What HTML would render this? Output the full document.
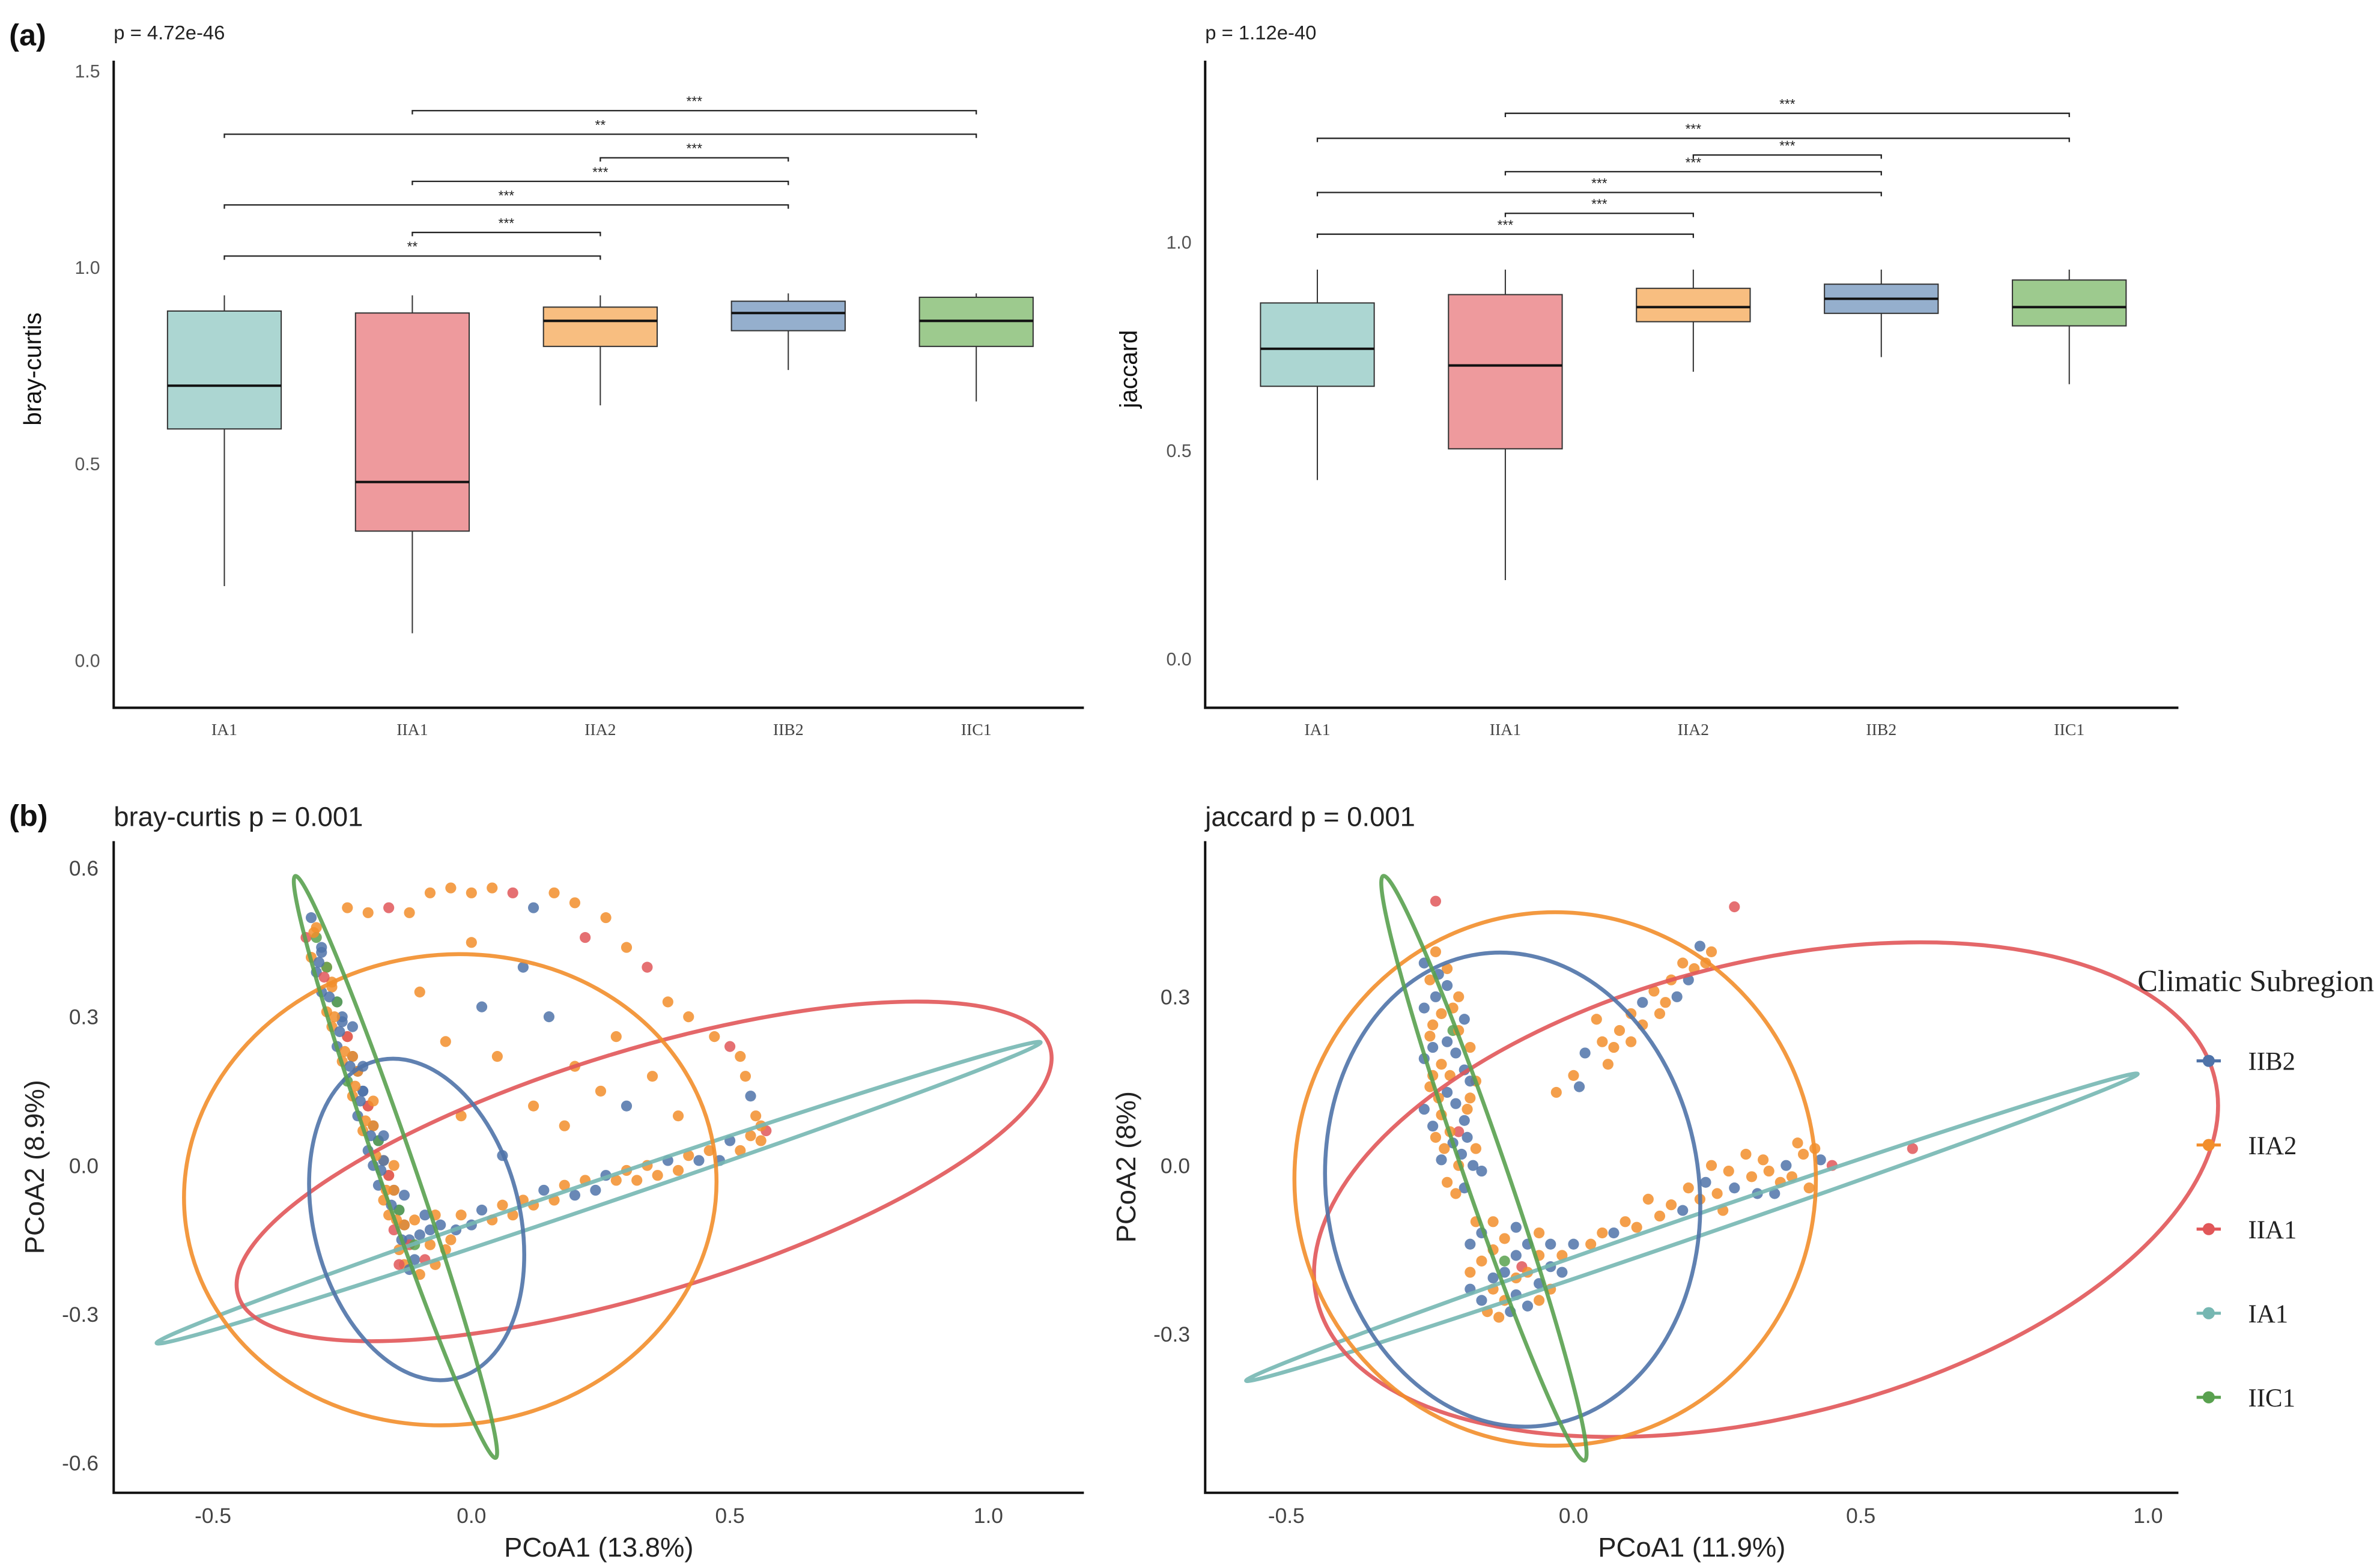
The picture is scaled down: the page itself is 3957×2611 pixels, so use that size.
<!DOCTYPE html>
<html><head><meta charset="utf-8"><style>
html,body{margin:0;padding:0;background:#fff;}
svg{display:block;}
text{font-family:"Liberation Sans",sans-serif;}
</style></head><body>
<svg id="fig" width="3957" height="2611" viewBox="0 0 1568 1034.6" xmlns="http://www.w3.org/2000/svg">
<g><text x="6" y="30" font-size="20" font-weight="bold" fill="#111">(a)</text></g>
<g><text x="6" y="545" font-size="20" font-weight="bold" fill="#111">(b)</text></g>
<text x="75" y="26" font-size="13" fill="#222">p = 4.72e-46</text>
<text x="795" y="26" font-size="13" fill="#222">p = 1.12e-40</text>
<text x="75" y="545" font-size="18" fill="#222">bray-curtis p = 0.001</text>
<text x="795" y="545" font-size="18" fill="#222">jaccard p = 0.001</text>
<g id="legend">
<text x="1410" y="654" font-size="20" fill="#222" style="font-family:'Liberation Serif',serif">Climatic Subregion</text>
</g>
</svg>
<script>
const cats=['IA1','IIA1','IIA2','IIB2','IIC1'];
const fillCols=['#acd6d2','#ee9a9d','#f8be80','#95afcd','#9dca8e'];
// bray-curtis boxes
const brayLow=[0.19,0.07,0.65,0.74,0.66];
const brayQ1=[0.59,0.33,0.80,0.84,0.80];
const brayMed=[0.70,0.455,0.865,0.885,0.865];
const brayQ3=[0.89,0.885,0.90,0.915,0.925];
const brayHigh=[0.93,0.93,0.93,0.935,0.935];
const brayBrFrom=[1,0,2,1,0,1,0];
const brayBrTo=[4,4,3,3,3,2,2];
const brayBrLevel=[1.40,1.34,1.28,1.22,1.16,1.09,1.03];
const brayBrLabel=['***','**','***','***','***','***','**'];
const brayTicks=[0,0.5,1.0,1.5];
// jaccard boxes
const jacLow=[0.43,0.19,0.69,0.725,0.66];
const jacQ1=[0.655,0.505,0.81,0.83,0.80];
const jacMed=[0.745,0.705,0.845,0.865,0.845];
const jacQ3=[0.855,0.875,0.89,0.90,0.91];
const jacHigh=[0.935,0.935,0.935,0.935,0.935];
const jacBrFrom=[1,0,2,1,0,1,0];
const jacBrTo=[4,4,3,3,3,2,2];
const jacBrLevel=[1.31,1.25,1.21,1.17,1.12,1.07,1.02];
const jacBrLabel=['***','***','***','***','***','***','***'];
const jacTicks=[0,0.5,1.0];

const groups=['IIB2','IIA2','IIA1','IA1','IIC1'];
const groupCols={B:'#4f73a9',O:'#f28e2b',R:'#e15759',T:'#76b7b2',G:'#59a14f'};
const groupKeys=['B','O','R','T','G'];
const ellGroup=['T','R','O','B','G'];
const brayEllCx=[0.246,0.334,-0.041,-0.106,-0.147];
const brayEllCy=[-0.055,-0.012,-0.049,-0.109,-0.003];
const jacEllCx=[0.206,0.335,-0.032,-0.106,-0.156];
const jacEllCy=[-0.11,-0.043,-0.024,-0.043,-0.005];
const brayTicksX=[-0.5,0,0.5,1.0], brayTicksY=[-0.6,-0.3,0,0.3,0.6];
const jacTicksX=[-0.5,0,0.5,1.0], jacTicksY=[-0.3,0,0.3];
const brayPts=[
[-0.31,0.50,'B'],[-0.30,0.48,'O'],[-0.32,0.46,'R'],[-0.30,0.46,'G'],[-0.29,0.44,'B'],[-0.31,0.42,'O'],
[-0.29,0.43,'B'],[-0.28,0.40,'O'],[-0.30,0.39,'B'],[-0.28,0.40,'G'],[-0.27,0.37,'O'],[-0.29,0.35,'B'],
[-0.27,0.36,'O'],[-0.26,0.33,'B'],[-0.28,0.31,'O'],[-0.26,0.33,'G'],[-0.25,0.30,'B'],[-0.27,0.28,'O'],
[-0.25,0.29,'B'],[-0.24,0.26,'O'],[-0.26,0.24,'B'],[-0.24,0.26,'R'],[-0.23,0.22,'B'],[-0.25,0.21,'O'],
[-0.23,0.22,'O'],[-0.22,0.19,'B'],[-0.24,0.17,'G'],[-0.22,0.19,'O'],[-0.21,0.15,'B'],[-0.23,0.14,'O'],
[-0.21,0.15,'B'],[-0.20,0.12,'O'],[-0.22,0.10,'B'],[-0.20,0.12,'R'],[-0.19,0.08,'B'],[-0.21,0.07,'O'],
[-0.19,0.08,'O'],[-0.18,0.05,'B'],[-0.20,0.03,'B'],[-0.18,0.05,'G'],[-0.17,0.01,'O'],[-0.19,0.00,'B'],
[-0.17,0.01,'B'],[-0.16,-0.02,'O'],[-0.18,-0.04,'B'],[-0.16,-0.02,'R'],[-0.15,-0.05,'B'],[-0.17,-0.07,'O'],
[-0.15,-0.05,'O'],[-0.14,-0.09,'B'],[-0.16,-0.10,'O'],[-0.14,-0.09,'G'],[-0.13,-0.12,'B'],[-0.15,-0.13,'R'],
[-0.13,-0.12,'O'],[-0.12,-0.15,'B'],[-0.14,-0.17,'O'],[-0.12,-0.16,'R'],[-0.11,-0.19,'B'],[-0.13,-0.20,'O'],
[-0.305,0.47,'O'],[-0.295,0.41,'B'],[-0.285,0.38,'R'],[-0.275,0.34,'B'],[-0.265,0.30,'O'],[-0.255,0.27,'B'],
[-0.245,0.23,'O'],[-0.235,0.20,'B'],[-0.225,0.16,'O'],[-0.215,0.13,'B'],[-0.205,0.09,'O'],[-0.195,0.06,'B'],
[-0.185,0.02,'O'],[-0.175,-0.01,'B'],[-0.165,-0.05,'O'],[-0.155,-0.08,'B'],[-0.145,-0.11,'O'],[-0.135,-0.15,'B'],
[-0.21,0.20,'B'],[-0.19,0.13,'O'],[-0.17,0.06,'B'],[-0.15,0.00,'O'],[-0.13,-0.06,'B'],[-0.23,0.28,'B'],
[-0.10,-0.14,'B'],[-0.08,-0.16,'O'],[-0.06,-0.12,'B'],[-0.09,-0.19,'R'],[-0.05,-0.17,'O'],[-0.03,-0.13,'B'],
[-0.07,-0.10,'O'],[-0.11,-0.11,'O'],[-0.12,-0.21,'B'],[-0.10,-0.22,'O'],[-0.08,-0.13,'B'],[-0.07,-0.20,'O'],
[-0.14,-0.20,'R'],[-0.11,-0.16,'G'],[-0.09,-0.10,'B'],[-0.04,-0.15,'O'],
[-0.02,-0.10,'O'],[0.02,-0.09,'B'],[0.06,-0.08,'O'],[0.10,-0.07,'O'],[0.14,-0.05,'B'],
[0.18,-0.04,'O'],[0.22,-0.03,'O'],[0.26,-0.02,'B'],[0.30,-0.01,'O'],[0.34,0.00,'O'],[0.38,0.01,'B'],
[0.42,0.02,'O'],[0.46,0.03,'O'],[0.50,0.05,'B'],[0.54,0.06,'O'],[0.57,0.07,'R'],[0.04,-0.11,'O'],
[0.12,-0.08,'O'],[0.20,-0.06,'B'],[0.28,-0.03,'O'],[0.36,-0.02,'O'],[0.44,0.01,'B'],[0.52,0.03,'O'],
[0.00,-0.12,'B'],[0.08,-0.10,'O'],[0.16,-0.07,'O'],[0.24,-0.05,'B'],[0.32,-0.03,'O'],[0.40,-0.01,'O'],
[0.48,0.01,'B'],[0.56,0.05,'O'],
[0.55,0.10,'O'],[0.54,0.14,'B'],[0.53,0.18,'O'],[0.52,0.22,'O'],[0.50,0.24,'R'],[0.56,0.08,'O'],
[-0.24,0.52,'O'],[-0.20,0.51,'O'],[-0.16,0.52,'R'],[-0.12,0.51,'O'],[-0.08,0.55,'O'],[-0.04,0.56,'O'],
[0.00,0.55,'O'],[0.04,0.56,'O'],[0.08,0.55,'R'],[0.12,0.52,'B'],[0.16,0.55,'O'],[0.20,0.53,'O'],
[0.22,0.46,'R'],[0.26,0.50,'O'],[0.30,0.44,'O'],[0.34,0.40,'R'],[0.38,0.33,'O'],[0.42,0.30,'O'],
[0.47,0.26,'O'],[0.10,0.40,'B'],[0.00,0.45,'O'],[-0.05,0.25,'O'],[0.05,0.22,'O'],[0.15,0.30,'B'],
[0.20,0.20,'O'],[0.25,0.15,'O'],[0.30,0.12,'B'],[0.35,0.18,'O'],[0.12,0.12,'O'],[-0.02,0.10,'O'],
[0.06,0.02,'B'],[0.18,0.08,'O'],[0.28,0.26,'O'],[0.40,0.10,'O'],[-0.10,0.35,'O'],[0.02,0.32,'B']
];
const jacPts=[
[-0.24,0.47,'R'],[0.28,0.46,'R'],[0.59,0.03,'R'],
[-0.25,0.33,'O'],[-0.22,0.32,'B'],[-0.20,0.30,'O'],[-0.26,0.28,'B'],[-0.23,0.27,'O'],[-0.19,0.26,'B'],
[-0.25,0.23,'O'],[-0.22,0.22,'B'],[-0.18,0.21,'O'],[-0.26,0.19,'B'],[-0.23,0.18,'O'],[-0.19,0.17,'B'],
[-0.25,0.14,'O'],[-0.22,0.13,'B'],[-0.18,0.12,'O'],[-0.26,0.10,'B'],[-0.23,0.09,'O'],[-0.19,0.08,'B'],
[-0.24,0.05,'O'],[-0.21,0.04,'B'],[-0.17,0.03,'O'],[-0.23,0.01,'B'],[-0.20,0.00,'O'],[-0.16,-0.01,'B'],
[-0.22,-0.03,'O'],[-0.19,-0.04,'B'],[-0.21,0.24,'G'],[-0.20,0.06,'R'],[-0.17,0.15,'O'],[-0.24,0.38,'O'],
[-0.24,0.30,'B'],[-0.21,0.28,'O'],[-0.245,0.25,'O'],[-0.205,0.20,'B'],[-0.245,0.21,'B'],[-0.215,0.16,'O'],
[-0.245,0.16,'O'],[-0.205,0.11,'B'],[-0.235,0.12,'O'],[-0.245,0.07,'B'],[-0.215,0.06,'O'],[-0.185,0.05,'B'],
[-0.225,0.03,'O'],[-0.195,0.02,'B'],[-0.205,-0.05,'O'],[-0.175,0.00,'B'],[-0.26,0.36,'B'],[-0.22,0.35,'O'],
[-0.18,0.15,'B'],[-0.20,0.24,'O'],[-0.235,0.34,'B'],[-0.185,0.10,'O'],
[-0.14,-0.10,'O'],[-0.10,-0.11,'B'],[-0.06,-0.12,'O'],[-0.18,-0.14,'B'],[-0.14,-0.15,'O'],[-0.10,-0.16,'B'],
[-0.06,-0.16,'O'],[-0.18,-0.19,'O'],[-0.14,-0.20,'B'],[-0.10,-0.20,'O'],[-0.06,-0.21,'B'],[-0.16,-0.24,'B'],
[-0.12,-0.24,'O'],[-0.08,-0.25,'B'],[-0.04,-0.22,'O'],[-0.13,-0.27,'O'],[-0.09,-0.18,'R'],[-0.12,-0.17,'G'],
[-0.16,-0.12,'B'],[-0.12,-0.13,'O'],[-0.08,-0.14,'B'],[-0.04,-0.14,'B'],[-0.16,-0.17,'O'],[-0.12,-0.19,'B'],
[-0.08,-0.19,'O'],[-0.04,-0.18,'B'],[-0.18,-0.22,'B'],[-0.14,-0.22,'O'],[-0.10,-0.23,'B'],[-0.06,-0.24,'O'],
[-0.11,-0.26,'B'],[-0.15,-0.26,'O'],[-0.02,-0.19,'B'],[-0.17,-0.10,'O'],
[-0.03,0.13,'O'],[0.00,0.16,'O'],[0.02,0.20,'B'],[0.05,0.22,'O'],[0.08,0.24,'O'],[0.10,0.27,'O'],
[0.12,0.29,'B'],[0.14,0.31,'O'],[0.17,0.33,'O'],[0.19,0.36,'O'],[0.22,0.39,'B'],[0.21,0.35,'O'],
[0.06,0.18,'O'],[0.10,0.22,'O'],[0.15,0.27,'O'],[0.24,0.38,'O'],[0.04,0.26,'O'],[0.18,0.30,'B'],
[0.01,0.14,'B'],[0.07,0.21,'O'],[0.12,0.25,'O'],[0.16,0.29,'O'],[0.20,0.33,'B'],[0.23,0.36,'O'],
[-0.02,-0.16,'O'],[0.03,-0.14,'O'],[0.07,-0.12,'B'],[0.11,-0.11,'O'],[0.15,-0.09,'O'],[0.19,-0.08,'B'],
[0.22,-0.06,'O'],[0.25,-0.05,'O'],[0.28,-0.04,'B'],[0.31,-0.02,'O'],[0.34,-0.01,'O'],[0.37,0.00,'B'],
[0.40,0.02,'O'],[0.43,0.01,'B'],[0.45,0.00,'R'],[0.20,-0.04,'O'],[0.26,-0.08,'O'],[0.32,-0.05,'B'],
[0.36,-0.03,'O'],[0.41,-0.04,'O'],[0.39,0.04,'O'],[0.13,-0.06,'O'],[0.24,0.00,'O'],[0.30,0.02,'O'],
[0.00,-0.14,'B'],[0.05,-0.12,'O'],[0.09,-0.10,'O'],[0.17,-0.07,'O'],[0.23,-0.03,'B'],[0.27,-0.01,'O'],
[0.33,0.01,'O'],[0.35,-0.05,'B'],[0.38,-0.02,'O'],[0.42,0.03,'O']
];

const svg=document.getElementById('fig');
const NS='http://www.w3.org/2000/svg';
function el(tag,attrs,parent){const e=document.createElementNS(NS,tag);for(const k in attrs)e.setAttribute(k,attrs[k]);(parent||svg).appendChild(e);return e;}
function txt(s,attrs,parent){const e=el('text',attrs,parent);e.textContent=s;return e;}

function boxPanel(name,x0,x1,yTop,yBot,yScale,ticks,catX,low,q1,med,q3,high,brFrom,brTo,brLevel,brLabel,ytitle,ytitleX){
  const g=el('g',{});
  
  
  const ax=el('path',{d:`M${x0},${yTop} V${yBot} H${x1}`,stroke:'#111','stroke-width':1.6,fill:'none'},g);
  
  
  ticks.forEach(t=>{const e=txt(t.toFixed(1),{x:x0-9,y:yScale(t)+4,'font-size':12,fill:'#555','text-anchor':'end'},g);
    
    });
  const yt=txt(ytitle,{x:ytitleX,y:(yTop+yBot)/2-10,'font-size':16,fill:'#111','text-anchor':'middle',transform:`rotate(-90 ${ytitleX} ${(yTop+yBot)/2-10})`},g);
  
  
  cats.forEach((c,i)=>{
    const cx=catX(i),w=37.5;
    const bg=el('g',{},g);
    
    
    el('line',{x1:cx,x2:cx,y1:yScale(low[i]),y2:yScale(q1[i]),stroke:'#333','stroke-width':0.8},bg);
    el('line',{x1:cx,x2:cx,y1:yScale(q3[i]),y2:yScale(high[i]),stroke:'#333','stroke-width':0.8},bg);
    el('rect',{x:cx-w,y:yScale(q3[i]),width:2*w,height:yScale(q1[i])-yScale(q3[i]),fill:fillCols[i],stroke:'#333','stroke-width':0.8},bg);
    el('line',{x1:cx-w,x2:cx+w,y1:yScale(med[i]),y2:yScale(med[i]),stroke:'#111','stroke-width':1.6},bg);
    const lab=txt(c,{x:cx,y:yBot+18,'font-size':11,fill:'#444','text-anchor':'middle',style:"font-family:'Liberation Serif',serif"},g);
    
    
  });
  brFrom.forEach((f,k)=>{
    const y=yScale(brLevel[k]),xa=catX(f),xb=catX(brTo[k]);
    const bg=el('g',{},g);
    
    
    el('path',{d:`M${xa},${y+2.5} V${y} H${xb} V${y+2.5}`,stroke:'#222','stroke-width':0.9,fill:'none'},bg);
    txt(brLabel[k],{x:(xa+xb)/2,y:y-3,'font-size':9,fill:'#222','text-anchor':'middle'},bg);
  });
}
boxPanel('bray-curtis-boxplot',75,715,40,467,v=>436-259.3*v,brayTicks,i=>148+124*i,brayLow,brayQ1,brayMed,brayQ3,brayHigh,brayBrFrom,brayBrTo,brayBrLevel,brayBrLabel,'bray-curtis',27);
boxPanel('jaccard-boxplot',795,1437,40,467,v=>435-275*v,jacTicks,i=>869+124*i,jacLow,jacQ1,jacMed,jacQ3,jacHigh,jacBrFrom,jacBrTo,jacBrLevel,jacBrLabel,'jaccard',750);

const ellRxB=[308,280,176,68,203], ellRyB=[8,80,155,108,12], ellAngB=[-18.8,-17,-8,-14,71];
const ellRxJ=[311,305,172,123,204], ellRyJ=[7,150,176,157,14], ellAngJ=[-19,-14,0,-8,71];
function pcoaPanel(name,x0,x1,yTop,yBot,xs,ys,tx,ty,pts,ecx,ecy,erx,ery,eang,xtitle,ytitle){
  const g=el('g',{});
  
  
  const ax=el('path',{d:`M${x0},${yTop} V${yBot} H${x1}`,stroke:'#111','stroke-width':1.6,fill:'none'},g);
  
  
  tx.forEach(t=>{const e=txt(t.toFixed(1),{x:xs(t),y:yBot+20,'font-size':14,fill:'#444','text-anchor':'middle'},g);
    
    });
  ty.forEach(t=>{const e=txt(t.toFixed(1),{x:x0-10,y:ys(t)+5,'font-size':14,fill:'#444','text-anchor':'end'},g);
    
    });
  const xt=txt(xtitle,{x:(x0+x1)/2,y:yBot+42,'font-size':18,fill:'#222','text-anchor':'middle'},g);
  
  
  const yx=x0-46,yy=(yTop+yBot)/2;
  const ytt=txt(ytitle,{x:yx,y:yy,'font-size':18,fill:'#222','text-anchor':'middle',transform:`rotate(-90 ${yx} ${yy})`},g);
  
  
  const pg=el('g',{},g);
  
  
  pts.forEach(p=>{const c=el('circle',{cx:xs(p[0]),cy:ys(p[1]),r:3.6,fill:groupCols[p[2]],'fill-opacity':0.85},pg);
    
    });
  ellGroup.forEach((k,i)=>{
    const cx=xs(ecx[i]),cy=ys(ecy[i]);
    const e=el('ellipse',{cx:cx,cy:cy,rx:erx[i],ry:ery[i],transform:`rotate(${eang[i]} ${cx} ${cy})`,fill:'none',stroke:groupCols[k],'stroke-width':2.6,'stroke-opacity':0.9},g);
    
    
  });
}
pcoaPanel('bray-curtis-pcoa',75,715,555,985,v=>311+341*v,v=>769-327*v,brayTicksX,brayTicksY,brayPts,brayEllCx,brayEllCy,ellRxB,ellRyB,ellAngB,'PCoA1 (13.8%)','PCoA2 (8.9%)');
pcoaPanel('jaccard-pcoa',795,1437,555,985,v=>1038+379*v,v=>769-371*v,jacTicksX,jacTicksY,jacPts,jacEllCx,jacEllCy,ellRxJ,ellRyJ,ellAngJ,'PCoA1 (11.9%)','PCoA2 (8%)');

const leg=document.getElementById('legend');
svg.appendChild(leg);
groups.forEach((gname,i)=>{
  const y=700+55.5*i;
  const eg=el('g',{},leg);
  
  
  el('line',{x1:1449,x2:1465,y1:y,y2:y,stroke:groupCols[groupKeys[i]],'stroke-width':2},eg);
  el('circle',{cx:1457,cy:y,r:4,fill:groupCols[groupKeys[i]]},eg);
  txt(gname,{x:1483,y:y+6,'font-size':17,fill:'#222',style:"font-family:'Liberation Serif',serif"},eg);
});
</script>
</body></html>
